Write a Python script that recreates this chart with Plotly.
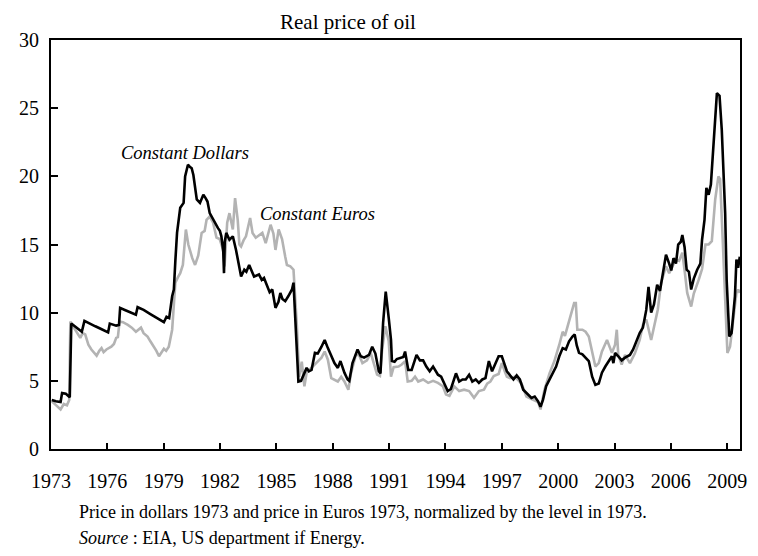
import plotly.graph_objects as go

# ---- data ----
usd_years = [1973.04, 1973.26, 1973.51, 1973.59, 1973.79, 1974.00, 1974.08, 1974.31, 1974.64, 1974.78,
             1975.04, 1975.36, 1975.67, 1976.04, 1976.13, 1976.30, 1976.47, 1976.62, 1976.68, 1976.93,
             1977.25, 1977.52, 1977.61, 1977.93, 1978.29, 1978.66, 1979.01, 1979.15, 1979.29, 1979.45,
             1979.54, 1979.62, 1979.71, 1979.88, 1979.97, 1980.06, 1980.14, 1980.29, 1980.39, 1980.49,
             1980.58, 1980.67, 1980.76, 1980.93, 1981.11, 1981.23, 1981.33, 1981.45, 1981.60, 1981.72,
             1981.89, 1981.99, 1982.07, 1982.17, 1982.21, 1982.25, 1982.33, 1982.50, 1982.68, 1982.85,
             1982.98, 1983.12, 1983.29, 1983.40, 1983.55, 1983.69, 1983.81, 1984.07, 1984.22, 1984.34,
             1984.51, 1984.64, 1984.78, 1984.87, 1984.95, 1985.11, 1985.21, 1985.32, 1985.47, 1985.63,
             1985.83, 1985.91, 1986.00, 1986.17, 1986.31, 1986.61, 1986.73, 1986.87, 1987.05, 1987.20,
             1987.40, 1987.57, 1987.74, 1987.92, 1988.09, 1988.27, 1988.41, 1988.62, 1988.79, 1988.88,
             1989.05, 1989.32, 1989.49, 1989.67, 1989.93, 1990.10, 1990.27, 1990.45, 1990.54, 1990.68,
             1990.82, 1990.98, 1991.10, 1991.15, 1991.29, 1991.41, 1991.59, 1991.76, 1991.85, 1992.02,
             1992.20, 1992.46, 1992.64, 1992.81, 1992.98, 1993.16, 1993.34, 1993.60, 1993.77, 1993.95,
             1994.12, 1994.29, 1994.56, 1994.73, 1994.91, 1995.08, 1995.26, 1995.43, 1995.61, 1995.78,
             1995.96, 1996.13, 1996.31, 1996.48, 1996.65, 1996.83, 1997.00, 1997.18, 1997.27, 1997.44,
             1997.62, 1997.79, 1997.96, 1998.14, 1998.31, 1998.58, 1998.75, 1998.93, 1999.06, 1999.19,
             1999.36, 1999.62, 1999.89, 2000.06, 2000.24, 2000.41, 2000.58, 2000.76, 2000.88, 2000.99,
             2001.11, 2001.29, 2001.46, 2001.63, 2001.81, 2001.98, 2002.16, 2002.33, 2002.51, 2002.68,
             2002.86, 2002.94, 2003.03, 2003.20, 2003.38, 2003.56, 2003.82, 2003.99, 2004.17, 2004.34,
             2004.51, 2004.69, 2004.81, 2004.95, 2005.10, 2005.27, 2005.42, 2005.56, 2005.74, 2005.91,
             2006.02, 2006.14, 2006.27, 2006.39, 2006.53, 2006.61, 2006.73, 2006.84, 2006.96, 2007.08,
             2007.22, 2007.40, 2007.57, 2007.66, 2007.79, 2007.89, 2008.01, 2008.13, 2008.27, 2008.38,
             2008.45, 2008.59, 2008.71, 2008.89, 2008.97, 2009.11, 2009.23, 2009.41, 2009.49, 2009.58,
             2009.67]
usd_values = [3.6, 3.5, 3.45, 4.1, 4.05, 3.8, 9.2, 8.95, 8.6, 9.4,
              9.2, 9.0, 8.8, 8.55, 9.2, 9.15, 9.05, 9.1, 10.35, 10.2,
              10.0, 9.85, 10.4, 10.2, 9.9, 9.6, 9.3, 9.7, 9.6, 11.2,
              11.7, 13.8, 15.85, 17.7, 17.9, 18.05, 20.0, 20.85, 20.7, 20.6,
              20.1, 19.2, 18.3, 18.05, 18.65, 18.4, 18.15, 17.3, 16.9, 16.6,
              16.2, 16.0, 15.6, 14.5, 12.9, 15.2, 15.85, 15.35, 15.6, 14.6,
              13.5, 12.65, 13.15, 13.0, 13.5, 13.0, 12.65, 12.8, 12.4, 12.55,
              11.9, 11.5, 11.7, 10.8, 10.35, 10.8, 11.45, 11.0, 10.85, 11.2,
              11.7, 12.2, 9.5, 4.95, 5.0, 5.95, 5.7, 5.8, 7.05, 7.0,
              7.5, 8.0, 7.4, 6.8, 6.3, 5.95, 6.45, 5.6, 5.1, 5.0,
              6.3, 7.3, 6.8, 6.7, 6.9, 7.5, 7.0, 5.7, 5.55, 9.25,
              11.55, 9.6, 8.0, 6.45, 6.4, 6.6, 6.65, 6.75, 7.15, 5.8,
              5.8, 6.9, 6.5, 6.5, 6.05, 5.7, 6.05, 5.45, 5.3, 4.7,
              4.25, 4.4, 5.55, 4.95, 5.1, 5.1, 5.45, 4.95, 5.1, 4.85,
              5.1, 5.2, 6.45, 5.7, 6.3, 6.8, 6.8, 6.05, 5.7, 5.4,
              5.1, 5.4, 5.1, 4.35, 4.1, 3.75, 3.85, 3.5, 3.1, 3.6,
              4.6, 5.3, 6.05, 6.8, 7.4, 7.3, 7.9, 8.25, 8.4, 7.6,
              7.05, 6.95, 6.7, 6.45, 5.3, 4.7, 4.8, 5.6, 6.05, 6.45,
              6.8, 6.3, 7.05, 6.8, 6.5, 6.7, 6.9, 7.3, 7.9, 8.5,
              8.9, 10.2, 11.9, 10.0, 10.6, 12.05, 11.6, 12.9, 14.25, 13.6,
              13.1, 14.0, 13.6, 15.0, 15.2, 15.7, 14.8, 13.15, 13.0, 11.7,
              12.5, 13.15, 13.6, 15.35, 16.8, 19.15, 18.65, 19.4, 22.2, 24.5,
              26.1, 25.9, 23.4, 17.3, 12.4, 8.25, 8.5, 11.2, 13.9, 13.3,
              14.1]

eur_years = [1973.04, 1973.26, 1973.51, 1973.68, 1973.85, 1973.97, 1974.03, 1974.15, 1974.29, 1974.56,
             1974.68, 1974.82, 1974.99, 1975.15, 1975.43, 1975.57, 1975.69, 1975.80, 1975.95, 1976.21,
             1976.35, 1976.47, 1976.56, 1976.65, 1976.83, 1977.09, 1977.30, 1977.52, 1977.79, 1977.93,
             1978.14, 1978.29, 1978.49, 1978.61, 1978.75, 1978.87, 1979.01, 1979.13, 1979.27, 1979.45,
             1979.62, 1979.76, 1979.88, 1980.02, 1980.18, 1980.31, 1980.42, 1980.52, 1980.67, 1980.84,
             1981.02, 1981.18, 1981.28, 1981.45, 1981.63, 1981.81, 1981.98, 1982.16, 1982.24, 1982.38,
             1982.50, 1982.68, 1982.80, 1982.94, 1983.03, 1983.12, 1983.25, 1983.38, 1983.60, 1983.73,
             1983.90, 1984.07, 1984.25, 1984.43, 1984.69, 1984.84, 1984.95, 1985.12, 1985.30, 1985.47,
             1985.56, 1985.74, 1985.91, 1986.09, 1986.21, 1986.35, 1986.49, 1986.61, 1986.87, 1987.14,
             1987.40, 1987.57, 1987.74, 1987.92, 1988.09, 1988.27, 1988.45, 1988.62, 1988.83, 1988.97,
             1989.23, 1989.40, 1989.58, 1989.82, 1990.02, 1990.19, 1990.36, 1990.51, 1990.63, 1990.80,
             1990.98, 1991.10, 1991.24, 1991.50, 1991.67, 1991.85, 1991.99, 1992.20, 1992.38, 1992.55,
             1992.81, 1993.08, 1993.34, 1993.60, 1993.86, 1994.03, 1994.21, 1994.47, 1994.73, 1994.99,
             1995.26, 1995.52, 1995.78, 1996.05, 1996.22, 1996.39, 1996.57, 1996.83, 1997.00, 1997.18,
             1997.27, 1997.44, 1997.70, 1998.05, 1998.31, 1998.67, 1998.93, 1999.06, 1999.27, 1999.54,
             1999.80, 2000.06, 2000.24, 2000.36, 2000.50, 2000.67, 2000.85, 2000.94, 2001.02, 2001.29,
             2001.46, 2001.63, 2001.81, 2001.98, 2002.16, 2002.33, 2002.60, 2002.86, 2003.03, 2003.12,
             2003.20, 2003.38, 2003.56, 2003.82, 2004.08, 2004.34, 2004.51, 2004.69, 2004.95, 2005.12,
             2005.30, 2005.48, 2005.74, 2005.91, 2006.09, 2006.27, 2006.44, 2006.61, 2006.74, 2006.87,
             2007.08, 2007.22, 2007.48, 2007.66, 2007.84, 2008.01, 2008.18, 2008.36, 2008.53, 2008.62,
             2008.76, 2008.89, 2009.01, 2009.15, 2009.32, 2009.49, 2009.58, 2009.67]
eur_values = [3.5, 3.2, 2.9, 3.3, 3.2, 3.6, 9.35, 9.0, 8.75, 8.15,
              8.5, 8.4, 7.65, 7.3, 6.85, 7.2, 7.4, 7.1, 7.3, 7.5,
              7.7, 8.15, 8.2, 9.35, 9.3, 9.1, 8.9, 8.6, 8.9, 8.5,
              8.25, 7.9, 7.5, 7.2, 6.8, 7.1, 7.35, 7.2, 7.5, 8.75,
              12.2, 12.6, 12.9, 13.5, 16.1, 15.0, 14.4, 14.0, 13.5, 14.2,
              15.85, 16.0, 16.8, 17.05, 16.6, 15.5, 15.4, 14.6, 13.4, 16.6,
              17.3, 16.1, 18.4, 16.8, 15.0, 14.85, 15.3, 15.6, 16.95, 15.85,
              15.5, 15.7, 15.85, 15.1, 16.45, 15.8, 14.6, 16.1, 15.4, 14.1,
              13.5, 13.4, 13.15, 9.0, 5.3, 6.4, 4.6, 5.6, 5.95, 6.3,
              6.7, 7.15, 6.55, 5.2, 5.1, 4.95, 5.3, 4.95, 4.35, 5.55,
              6.9, 6.9, 6.3, 6.5, 7.05, 6.2, 5.45, 5.35, 7.3, 9.0,
              7.9, 5.3, 6.0, 6.05, 6.2, 6.45, 4.95, 5.0, 5.3, 4.95,
              5.1, 4.85, 5.0, 4.85, 4.6, 4.0, 3.9, 4.6, 4.25, 4.35,
              4.25, 3.75, 4.25, 4.35, 4.8, 4.95, 5.35, 5.5, 6.3, 5.6,
              5.3, 5.2, 5.3, 4.8, 3.85, 3.6, 3.45, 2.9, 4.35, 5.55,
              6.45, 7.65, 8.6, 8.3, 9.0, 10.0, 10.7, 10.7, 8.75, 8.75,
              8.6, 8.25, 7.05, 6.05, 6.3, 7.15, 8.0, 7.05, 7.65, 8.75,
              6.9, 6.2, 6.9, 6.3, 7.0, 8.0, 9.1, 9.5, 8.0, 9.1,
              10.2, 12.2, 13.4, 12.9, 13.4, 13.9, 13.8, 14.4, 13.0, 11.45,
              10.45, 11.4, 12.4, 13.2, 15.0, 15.0, 15.25, 18.3, 20.0, 19.8,
              15.35, 11.2, 7.05, 7.5, 9.4, 11.45, 11.7, 11.45]

tick_years = [1973, 1976, 1979, 1982, 1985, 1988, 1991, 1994, 1997, 2000, 2003, 2006, 2009]
y_ticks = [0, 5, 10, 15, 20, 25, 30]

title_text = "Real price of oil"
label_usd = "Constant Dollars"
label_eur = "Constant Euros"
note_1 = "Price in dollars 1973 and price in Euros 1973, normalized by the level in 1973."
note_2 = "<i>Source</i> : EIA, US department if Energy."

SERIF = "Liberation Serif, Times New Roman, serif"

fig = go.Figure()
fig.add_trace(go.Scatter(x=eur_years, y=eur_values, mode="lines",
                         line=dict(color="#b3b3b3", width=2.6), name=label_eur,
                         showlegend=False))
fig.add_trace(go.Scatter(x=usd_years, y=usd_values, mode="lines",
                         line=dict(color="#000000", width=2.6), name=label_usd,
                         showlegend=False))

fig.update_layout(
    width=750, height=548,
    margin=dict(l=39, r=11, t=32, b=107),
    paper_bgcolor="white", plot_bgcolor="white",
    font=dict(family=SERIF, color="black", size=20),
    xaxis=dict(range=[1973, 2009.68], tickmode="array", tickvals=tick_years,
               ticktext=[str(t) for t in tick_years],
               showline=True, linecolor="black", linewidth=2, mirror=True,
               ticks="inside", ticklen=6, tickwidth=1.5, tickcolor="black",
               showgrid=False, zeroline=False, tickfont=dict(size=20, family=SERIF),
               ticklabelstandoff=13),
    yaxis=dict(range=[0, 30], tickmode="array", tickvals=y_ticks,
               showline=True, linecolor="black", linewidth=2, mirror=True,
               ticks="inside", ticklen=7, tickwidth=1.5, tickcolor="black",
               showgrid=False, zeroline=False, tickfont=dict(size=20, family=SERIF),
               ticklabelstandoff=6),
    annotations=[
        dict(text=title_text, xref="paper", yref="paper", x=0.431, y=1.0782,
             xanchor="center", yanchor="top", showarrow=False,
             font=dict(size=21, family=SERIF)),
        dict(text="<i>" + label_usd + "</i>", xref="x", yref="y", x=1980.13, y=21.74,
             xanchor="center", yanchor="middle", showarrow=False,
             font=dict(size=18.5, family=SERIF)),
        dict(text="<i>" + label_eur + "</i>", xref="x", yref="y", x=1987.18, y=17.26,
             xanchor="center", yanchor="middle", showarrow=False,
             font=dict(size=18.5, family=SERIF)),
        dict(text=note_1, xref="paper", yref="paper", x=0.038, y=-0.155,
             xanchor="left", yanchor="middle", showarrow=False,
             font=dict(size=18, family=SERIF)),
        dict(text=note_2, xref="paper", yref="paper", x=0.038, y=-0.217,
             xanchor="left", yanchor="middle", showarrow=False,
             font=dict(size=18, family=SERIF)),
    ],
)

fig.write_html("out.html")
